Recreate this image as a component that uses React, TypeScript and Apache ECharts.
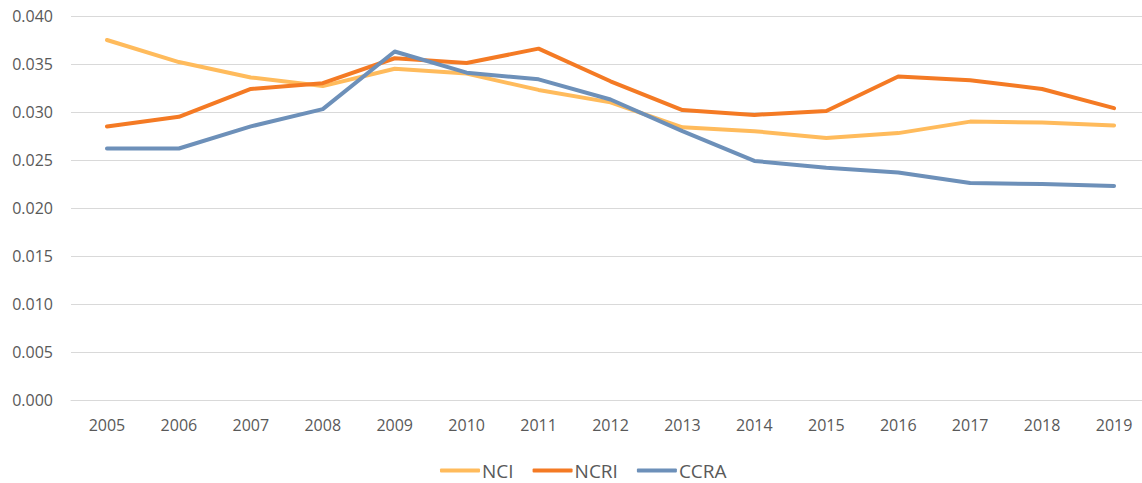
import React, { useEffect, useRef } from "react";
import * as echarts from "echarts";

const years = ["2005","2006","2007","2008","2009","2010","2011","2012","2013","2014","2015","2016","2017","2018","2019"];
const nci = [0.0375, 0.0352, 0.0336, 0.0327, 0.0345, 0.0340, 0.0323, 0.0310, 0.0284, 0.0280, 0.0273, 0.0278, 0.0290, 0.0289, 0.0286];
const ncri = [0.0285, 0.0295, 0.0324, 0.0330, 0.0356, 0.0351, 0.0366, 0.0332, 0.0302, 0.0297, 0.0301, 0.0337, 0.0333, 0.0324, 0.0304];
const ccra = [0.0262, 0.0262, 0.0285, 0.0303, 0.0363, 0.0341, 0.0334, 0.0313, 0.0280, 0.0249, 0.0242, 0.0237, 0.0226, 0.0225, 0.0223];
const yTicks = { min: 0, max: 0.04, interval: 0.005 };

export default function App() {
  const ref = useRef<HTMLDivElement>(null);
  useEffect(() => {
    if (!ref.current) return;
    const chart = echarts.init(ref.current, undefined, { renderer: "svg" });
    const font = "'Open Sans', 'Noto Sans', sans-serif";
    const mk = (name: string, data: number[], color: string) => ({
      name,
      type: "line",
      data,
      symbol: "none",
      lineStyle: { color, width: 4, cap: "round", join: "round" },
      itemStyle: { color },
    });
    chart.setOption({
      animation: false,
      backgroundColor: "#ffffff",
      textStyle: { fontFamily: font },
      grid: { left: 71, right: 0, top: 16, bottom: 83, containLabel: false },
      legend: {
        top: 456,
        left: 435,
        itemWidth: 40,
        itemHeight: 4,
        itemGap: 19,
        icon: "roundRect",
        textStyle: { color: "#595959", fontSize: 19, fontFamily: font, padding: [0, 0, 0, -3] },
        data: ["NCI", "NCRI", "CCRA"],
      },
      xAxis: {
        type: "category",
        data: years,
        boundaryGap: true,
        axisLine: { show: true, lineStyle: { color: "#d9d9d9", width: 1 } },
        axisTick: { show: false },
        axisLabel: { color: "#595959", fontSize: 16, margin: 17, fontFamily: font },
      },
      yAxis: {
        type: "value",
        min: yTicks.min,
        max: yTicks.max,
        interval: yTicks.interval,
        axisLine: { show: false },
        axisTick: { show: false },
        splitLine: { lineStyle: { color: "#d9d9d9", width: 1 } },
        axisLabel: {
          color: "#595959",
          fontSize: 16,
          margin: 18,
          fontFamily: font,
          formatter: (v: number) => v.toFixed(3),
        },
      },
      series: [
        mk("NCI", nci, "#FFBB5C"),
        mk("NCRI", ncri, "#F47A24"),
        mk("CCRA", ccra, "#6D90B9"),
      ],
    });
    return () => chart.dispose();
  }, []);
  return (
    <div style={{ position: "absolute", left: 0, top: 0, width: 1142, height: 483, overflow: "hidden" }}>
      <div ref={ref} style={{ width: 1150, height: 483 }} />
    </div>
  );
}
